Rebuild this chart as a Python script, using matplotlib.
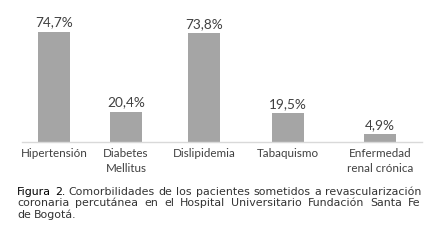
import matplotlib
matplotlib.use('Agg')
import matplotlib.pyplot as plt

categories = ['Hipertensión', 'Diabetes\nMellitus', 'Dislipidemia', 'Tabaquismo', 'Enfermedad\nrenal crónica']
values = [74.7, 20.4, 73.8, 19.5, 4.9]
value_labels = ['74,7%', '20,4%', '73,8%', '19,5%', '4,9%']
caption_lead = 'Figura 2.'
caption_lines = [
    'Comorbilidades de los pacientes sometidos a revascularización',
    'coronaria percutánea en el Hospital Universitario Fundación Santa Fe',
    'de Bogotá.',
]

# layout (pixel-based positions of category centres along the axis)
x_pos = [32, 104, 182.5, 266, 358]
bar_w = 32

W, H = 435, 244
fig = plt.figure(figsize=(W / 100, H / 100), dpi=100)
plt.rcParams['font.family'] = ['Lato', 'DejaVu Sans']

base_y = 141.7
ymax = 80
px_per = 1.4726
ax = fig.add_axes([22 / W, (H - base_y) / H, 400 / W, ymax * px_per / H])
ax.set_xlim(0, 400)
ax.set_ylim(0, ymax)
ax.bar(x_pos, values, width=bar_w, color='#a5a5a5', zorder=2)
for x, v, lab in zip(x_pos, values, value_labels):
    ax.annotate(lab, (x, v), xytext=(0, 3.8), textcoords='offset points',
                ha='center', va='baseline', fontsize=9.8, color='#404040')
for s in ['top', 'right', 'left']:
    ax.spines[s].set_visible(False)
ax.spines['bottom'].set_color('#d9d9d9')
ax.spines['bottom'].set_linewidth(1.0)
ax.set_yticks([])
ax.set_xticks(x_pos)
ax.set_xticklabels(categories, fontsize=8.4, color='#404040', linespacing=1.45)
ax.tick_params(axis='x', length=0, pad=4.5)
ax.set_facecolor('none')

# justified caption
renderer = fig.canvas.get_renderer()
x0, x1 = 17 / W, 421 / W
cap_fs = 7.9
cap_family = ['DejaVu Sans']
baselines = [195, 206.5, 218]


def words_for(i):
    ws = []
    if i == 0:
        for w in caption_lead.split():
            ws.append((w, '#000000', 'normal'))
    for w in caption_lines[i].split():
        ws.append((w, '#333333', 'normal'))
    return ws


for i in range(len(caption_lines)):
    ws = words_for(i)
    y = 1 - baselines[i] / H
    texts = []
    for w, c, wt in ws:
        t = fig.text(0, y, w, fontsize=cap_fs, color=c, fontweight=wt, va='baseline',
                     ha='left', family=cap_family)
        texts.append(t)
    widths = [t.get_window_extent(renderer).width / W for t in texts]
    justify = i < len(caption_lines) - 1
    if justify and len(texts) > 1:
        gap = (x1 - x0 - sum(widths)) / (len(texts) - 1)
    else:
        sp = fig.text(0, 0, 'a a', fontsize=cap_fs, family=cap_family)
        sp2 = fig.text(0, 0, 'aa', fontsize=cap_fs, family=cap_family)
        gap = (sp.get_window_extent(renderer).width - sp2.get_window_extent(renderer).width) / W
        sp.remove(); sp2.remove()
    x = x0
    for t, wd in zip(texts, widths):
        t.set_x(x)
        x += wd + gap

fig.savefig('out.png', dpi=100)
